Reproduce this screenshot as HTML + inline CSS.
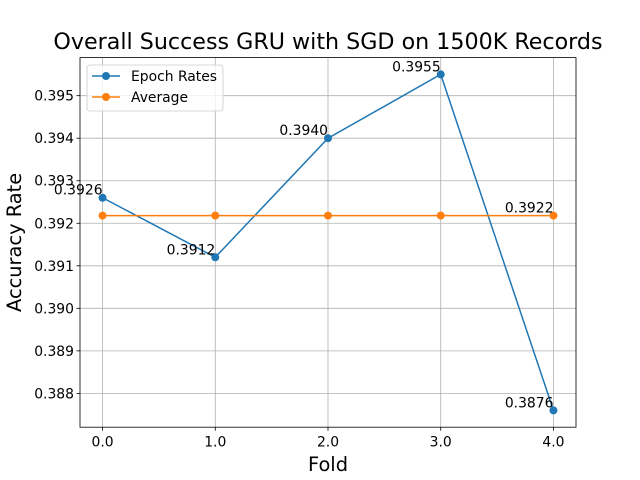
<!DOCTYPE html>
<html><head><meta charset="utf-8"><style>
html,body{margin:0;padding:0;background:#fff;}
svg{display:block;font-family:"DejaVu Sans","Liberation Sans",sans-serif;}
</style></head><body>
<svg id="chart" width="640" height="480" viewBox="0 0 640 480"></svg>
<script>
const categories = [0, 1, 2, 3, 4];
const epochRates = [0.3926, 0.3912, 0.3940, 0.3955, 0.3876];
const averageValue = [0.39218, 0.39218, 0.39218, 0.39218, 0.39218];
const xTickLabels = ["0.0", "1.0", "2.0", "3.0", "4.0"];
const yTicks = [0.388, 0.389, 0.390, 0.391, 0.392, 0.393, 0.394, 0.395];

const NS = "http://www.w3.org/2000/svg";
const svg = document.getElementById("chart");
const L = 80, R = 576, T = 57.6, B = 427.2;
const xMin = -0.2, xMax = 4.2;
const all = epochRates.concat(averageValue);
const dMin = Math.min(...all), dMax = Math.max(...all);
const yMin = dMin - (dMax - dMin) * 0.05, yMax = dMax + (dMax - dMin) * 0.05;
const xs = v => L + (v - xMin) / (xMax - xMin) * (R - L);
const ys = v => B - (v - yMin) / (yMax - yMin) * (B - T);
const FS = 13.9;

function mk(tag, attrs, text) {
  const e = document.createElementNS(NS, tag);
  for (const k in attrs) e.setAttribute(k, attrs[k]);
  if (text !== undefined) e.textContent = text;
  svg.appendChild(e);
  return e;
}

categories.forEach((c, i) => {
  const x = xs(c);
  const g = mk("line", {x1: x, x2: x, y1: T, y2: B, stroke: "#b0b0b0", "stroke-width": 0.8});
  
  
  mk("line", {x1: x, x2: x, y1: B, y2: B + 3.5, stroke: "#000", "stroke-width": 0.8});
  const t = mk("text", {x: x, y: B + 19.5, "font-size": FS, "text-anchor": "middle"}, xTickLabels[i]);
  
  
});
yTicks.forEach(v => {
  const y = ys(v);
  const g = mk("line", {x1: L, x2: R, y1: y, y2: y, stroke: "#b0b0b0", "stroke-width": 0.8});
  
  
  mk("line", {x1: L - 3.5, x2: L, y1: y, y2: y, stroke: "#000", "stroke-width": 0.8});
  const t = mk("text", {x: L - 6, y: y + 5, "font-size": FS, "text-anchor": "end"}, v.toFixed(3));
  
  
});

function series(vals, color, name) {
  const p = mk("polyline", {points: vals.map((v, i) => xs(categories[i]) + "," + ys(v)).join(" "), fill: "none", stroke: color, "stroke-width": 1.5});
  
  
  vals.forEach((v, i) => {
    const c = mk("circle", {cx: xs(categories[i]), cy: ys(v), r: 4, fill: color});
    
    
  });
}
series(epochRates, "#1f77b4", "epoch-rates");
series(averageValue, "#ff7f0e", "average");

epochRates.forEach((v, i) => {
  const t = mk("text", {x: xs(categories[i]), y: ys(v) - 3, "font-size": FS, "text-anchor": "end"}, v.toFixed(4));
  
  
});
{
  const li = averageValue.length - 1;
  const t = mk("text", {x: xs(categories[li]), y: ys(averageValue[li]) - 3, "font-size": FS, "text-anchor": "end"}, averageValue[li].toFixed(4));
  
  
}

const fr = mk("rect", {x: L, y: T, width: R - L, height: B - T, fill: "none", stroke: "#000", "stroke-width": 0.8});



const tt = mk("text", {x: (L + R) / 2, y: 49, "font-size": 22.2, "text-anchor": "middle"}, "Overall Success GRU with SGD on 1500K Records");


const xt = mk("text", {x: (L + R) / 2, y: 471, "font-size": 19.4, "text-anchor": "middle"}, "Fold");


const yt = mk("text", {x: 0, y: 0, "font-size": 19.4, "text-anchor": "middle", transform: "translate(21," + (T + B) / 2 + ") rotate(-90)"}, "Accuracy Rate");



const lg = mk("rect", {x: 87, y: 65, width: 136, height: 46, rx: 3, fill: "#fff", "fill-opacity": 0.8, stroke: "#ccc", "stroke-width": 0.8});


[["Epoch Rates", "#1f77b4", 76], ["Average", "#ff7f0e", 97]].forEach(([n, c, y]) => {
  mk("line", {x1: 92, x2: 120, y1: y, y2: y, stroke: c, "stroke-width": 1.5});
  mk("circle", {cx: 106, cy: y, r: 4, fill: c});
  const t = mk("text", {x: 131, y: y + 5, "font-size": FS}, n);
  
  
});
</script>
</body></html>
